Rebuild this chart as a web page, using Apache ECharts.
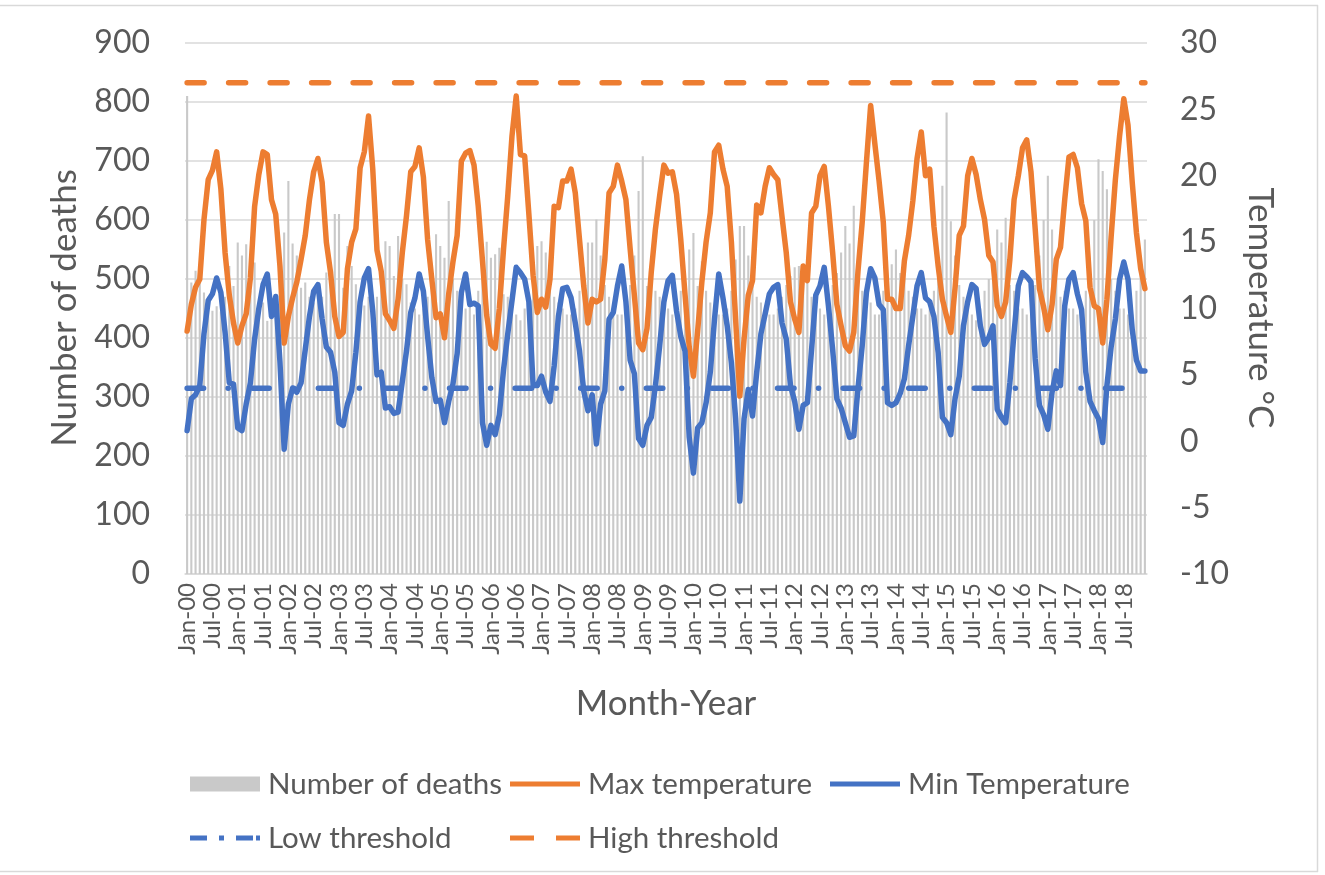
<!DOCTYPE html>
<html>
<head>
<meta charset="utf-8">
<script src="https://cdn.jsdelivr.net/npm/echarts@6/dist/echarts.min.js"></script>
<style>
html,body{margin:0;padding:0;background:#ffffff;}
#chart{width:1325px;height:875px;}
</style>
</head>
<body>
<div id="chart"></div>
<script>
// ---- Data ----
const years = ['00','01','02','03','04','05','06','07','08','09','10','11','12','13','14','15','16','17','18'];
const monthNames = ['Jan','Feb','Mar','Apr','May','Jun','Jul','Aug','Sep','Oct','Nov','Dec'];

const deaths = [
  810,494,514,502,477,470,446,454,445,470,522,488,
  562,540,559,480,528,460,460,429,440,450,480,579,
  666,560,540,485,494,470,460,494,470,511,520,610,
  610,485,556,522,491,470,455,470,450,470,510,564,
  556,505,573,500,491,460,450,440,450,470,520,576,
  556,536,632,500,480,460,450,455,440,480,500,563,
  536,542,553,474,470,450,440,430,450,470,500,556,
  564,545,520,470,460,450,440,440,450,480,520,562,
  562,601,540,490,470,450,440,440,450,490,540,649,
  708,488,520,480,470,450,450,440,440,480,500,550,
  578,488,530,480,460,440,440,440,450,480,533,590,
  590,540,520,470,460,440,440,440,450,470,490,505,
  520,522,505,520,470,450,450,440,450,490,510,545,
  590,560,624,520,480,450,460,440,440,480,500,525,
  550,510,520,480,470,450,450,440,450,480,520,658,
  782,598,540,490,470,450,440,430,450,480,500,520,
  584,562,604,490,480,450,450,440,440,490,540,600,
  675,584,540,470,480,450,450,440,440,480,510,600,
  703,683,652,500,480,450,450,440,440,480,520,567
];

const maxTemp = [
  8.3,10.3,11.6,12.2,16.7,19.7,20.4,21.8,19.0,14.2,11.0,8.9,
  7.4,8.7,9.6,12.3,17.7,20.1,21.8,21.6,18.2,17.1,13.2,7.4,
  9.4,10.8,12.0,13.7,15.5,18.2,20.3,21.3,19.5,15.0,12.7,9.4,
  7.9,8.2,13.0,15.0,16.0,20.6,21.8,24.5,20.5,14.4,12.8,9.6,
  9.1,8.5,10.7,14.2,17.0,20.3,20.7,22.1,19.9,15.2,12.2,9.3,
  9.6,7.8,11.1,13.5,15.5,21.1,21.7,21.9,20.8,17.7,13.6,9.5,
  7.3,7.0,10.0,14.5,18.5,23.0,26.0,21.6,21.5,17.1,12.5,9.7,
  10.7,10.1,12.2,17.7,17.6,19.6,19.6,20.5,18.7,15.2,11.7,8.9,
  10.7,10.5,10.7,13.7,18.7,19.2,20.8,19.6,18.2,14.5,11.0,7.4,
  6.9,8.5,12.7,16.0,18.5,20.8,20.2,20.3,18.6,15.2,11.1,7.1,
  4.9,8.3,12.0,15.0,17.2,21.8,22.3,20.5,19.2,15.0,9.2,3.4,
  7.7,11.0,12.1,17.8,17.2,19.2,20.6,20.1,19.7,16.9,14.2,10.5,
  9.2,8.2,13.2,12.1,17.2,17.7,20.0,20.7,17.7,14.2,10.3,8.7,
  7.2,6.8,8.2,12.8,16.5,21.0,25.3,22.4,19.6,16.5,10.7,10.7,
  10.0,10.0,13.6,15.5,18.1,21.3,23.3,20.0,20.5,16.2,13.2,10.7,
  9.4,8.2,11.5,15.5,16.2,20.0,21.3,20.1,18.2,16.7,14.0,13.5,
  10.2,9.4,10.5,13.7,18.2,20.0,22.1,22.7,20.3,16.0,11.5,10.1,
  8.4,10.3,13.7,14.6,18.2,21.4,21.6,20.6,17.9,16.6,11.6,10.2,
  10.0,7.4,10.7,15.4,19.7,23.0,25.8,23.8,19.5,15.7,13.0,11.5
];

const minTemp = [
  0.8,3.2,3.5,4.2,8.1,10.6,11.1,12.3,11.2,8.2,4.4,4.3,
  1.0,0.8,2.8,4.4,7.7,10.0,11.8,12.6,9.4,10.9,6.0,-0.6,
  2.8,4.0,3.7,4.4,6.9,9.4,11.3,11.8,9.2,7.1,6.7,5.2,
  1.4,1.2,2.8,3.8,6.7,10.5,12.3,13.0,9.8,5.0,5.2,2.5,
  2.6,2.1,2.2,4.5,6.8,9.7,10.8,12.6,11.3,7.9,4.8,3.0,
  3.1,1.4,3.0,4.3,6.6,11.2,12.6,10.3,10.4,10.2,1.4,-0.3,
  1.2,0.5,2.0,5.4,8.1,10.6,13.1,12.7,12.2,10.5,4.2,4.2,
  4.9,3.7,3.0,5.7,9.4,11.5,11.6,10.8,8.9,6.8,3.8,2.3,
  3.5,-0.2,2.8,3.8,9.2,9.7,11.7,13.2,10.5,6.1,5.1,0.2,
  -0.3,1.2,1.8,4.2,7.2,10.5,12.1,12.5,9.8,7.9,6.8,0.3,
  -2.4,1.0,1.4,2.9,5.2,9.2,12.6,10.8,8.7,5.9,1.7,-4.5,
  1.7,3.9,1.9,5.2,8.1,9.6,11.1,11.6,11.8,8.9,7.7,4.2,
  3.0,0.9,2.7,2.9,6.9,11.0,11.7,13.1,10.2,6.9,3.2,2.5,
  1.4,0.3,0.4,4.0,7.2,11.2,13.0,12.3,10.3,9.9,2.9,2.7,
  2.9,3.6,4.7,7.2,9.4,11.7,12.7,10.8,10.5,9.4,6.7,1.8,
  1.4,0.5,3.2,4.9,8.7,10.5,11.8,11.5,8.7,7.3,7.8,8.7,
  2.4,1.8,1.4,4.4,8.2,11.7,12.7,12.4,12.0,6.2,2.7,2.0,
  0.9,3.7,5.3,4.2,10.2,12.2,12.7,11.1,9.9,5.2,3.0,2.3,
  1.7,-0.1,4.2,7.1,9.2,12.2,13.5,12.2,8.4,6.1,5.3,5.3
];

const lowThreshold = 4;
const highThreshold = 27;

const deathTicks = { min: 0, max: 900, interval: 100 };
const tempTicks = { min: -10, max: 30, interval: 5 };

// ---- Build options ----
const categories = [];
years.forEach(y => monthNames.forEach(m => categories.push(m + '-' + y)));
const lowLine = categories.map(() => lowThreshold);
const highLine = categories.map(() => highThreshold);

const FONT = 'Lato, "Open Sans", sans-serif';
const TXT = '#595959';
const ORANGE = '#ed7d31';
const BLUE = '#4472c4';
const GREY = '#c9c9c9';
const LW = 5.5;

// legend icon shapes (70 x 5 box)
const ICON_SOLID = 'path://M0 0H70V5H0Z';
const ICON_DASH = 'path://M0 0H24V5H0Z M46 0H70V5H46Z';
const ICON_DASHDOT = 'path://M0 0H17V5H0Z M29 0H34V5H29Z M46 0H63V5H46Z M66 0H70V5H66Z';

function legendAt(name, left, top, icon, h) {
  return {
    data: [{ name: name, icon: icon }], left: left, top: top, padding: 0,
    itemWidth: 70, itemHeight: h, selectedMode: false,
    textStyle: { fontFamily: FONT, fontSize: 29.5, color: TXT, padding: [0, 0, 0, 3] }
  };
}

const chart = echarts.init(document.getElementById('chart'), null, { renderer: 'canvas' });
chart.setOption({
  animation: false,
  backgroundColor: '#ffffff',
  textStyle: { fontFamily: FONT },
  grid: { left: 185, right: 178, top: 43, bottom: 301, containLabel: false },
  legend: [
    legendAt('Number of deaths', 190, 769, 'rect', 15),
    legendAt('Max temperature', 510, 769, ICON_SOLID, 5),
    legendAt('Min Temperature', 830, 769, ICON_SOLID, 5),
    legendAt('Low threshold', 190, 823, ICON_DASHDOT, 5),
    legendAt('High threshold', 510, 823, ICON_DASH, 5)
  ],
  xAxis: {
    type: 'category',
    data: categories,
    boundaryGap: true,
    axisLine: { show: true, lineStyle: { color: '#d9d9d9', width: 1.5 } },
    axisTick: { show: false },
    axisLabel: { interval: 5, rotate: 90, fontSize: 24, color: TXT, fontFamily: FONT, margin: 9 },
    splitLine: { show: false }
  },
  yAxis: [
    {
      type: 'value', min: deathTicks.min, max: deathTicks.max, interval: deathTicks.interval,
      axisLine: { show: false }, axisTick: { show: false },
      axisLabel: { fontSize: 32, color: TXT, fontFamily: FONT, margin: 35 },
      splitLine: { show: true, lineStyle: { color: '#d9d9d9', width: 1.5 } }
    },
    {
      type: 'value', min: tempTicks.min, max: tempTicks.max, interval: tempTicks.interval,
      position: 'right',
      axisLine: { show: false }, axisTick: { show: false },
      axisLabel: { fontSize: 32, color: TXT, fontFamily: FONT, margin: 33, align: 'left' },
      splitLine: { show: false }
    }
  ],
  series: [
    {
      name: 'Number of deaths', type: 'bar', yAxisIndex: 0, data: deaths,
      barWidth: '50%', itemStyle: { color: GREY }
    },
    {
      name: 'Max temperature', type: 'line', yAxisIndex: 1, data: maxTemp,
      symbol: 'none', smooth: false, color: ORANGE,
      lineStyle: { color: ORANGE, width: LW, join: 'round', cap: 'round' }
    },
    {
      name: 'Min Temperature', type: 'line', yAxisIndex: 1, data: minTemp,
      symbol: 'none', smooth: false, color: BLUE,
      lineStyle: { color: BLUE, width: LW, join: 'round', cap: 'round' }
    },
    {
      name: 'Low threshold', type: 'line', yAxisIndex: 1, data: lowLine,
      symbol: 'none', color: BLUE,
      lineStyle: { color: BLUE, width: LW, type: [16.5, 24.5, 0.1, 24.5], cap: 'round' }
    },
    {
      name: 'High threshold', type: 'line', yAxisIndex: 1, data: highLine,
      symbol: 'none', color: ORANGE,
      lineStyle: { color: ORANGE, width: LW, type: [17, 24.5], cap: 'round' }
    }
  ],
  graphic: [
    { type: 'text', x: 65, y: 308, rotation: Math.PI / 2,
      style: { text: 'Number of deaths', fontFamily: FONT, fontSize: 35, fill: TXT, align: 'center', verticalAlign: 'middle' } },
    { type: 'text', x: 1260, y: 308, rotation: -Math.PI / 2,
      style: { text: 'Temperature °C', fontFamily: FONT, fontSize: 35, fill: TXT, align: 'center', verticalAlign: 'middle' } },
    { type: 'text', x: 666, y: 704,
      style: { text: 'Month-Year', fontFamily: FONT, fontSize: 35, fill: TXT, align: 'center', verticalAlign: 'middle' } },
    { type: 'line', shape: { x1: 1317.5, y1: 5, x2: 1317.5, y2: 872 }, style: { stroke: '#d9d9d9', lineWidth: 1.5 } },
    { type: 'line', shape: { x1: 0, y1: 5.5, x2: 1318, y2: 5.5 }, style: { stroke: '#d9d9d9', lineWidth: 1.5 } },
    { type: 'line', shape: { x1: 0, y1: 871.5, x2: 1318, y2: 871.5 }, style: { stroke: '#d9d9d9', lineWidth: 1.5 } }
  ]
});
</script>
</body>
</html>
